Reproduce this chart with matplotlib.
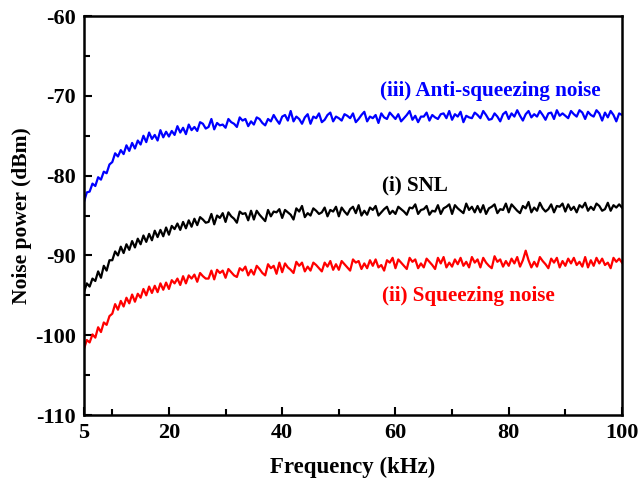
import numpy as np
import matplotlib.pyplot as plt

# noise power traces (dBm), sampled every 0.5 kHz from 5 to 100 kHz
anti_squeezing = [
    -83.3, -82.1, -82.0, -81.0, -81.3, -80.2, -80.5, -79.5, -79.7, -78.6,
    -78.3, -77.2, -77.6, -76.8, -77.3, -76.2, -76.9, -75.9, -76.6, -75.6,
    -76.1, -75.0, -75.8, -74.6, -75.4, -74.9, -75.6, -74.3, -75.2, -74.5,
    -75.1, -74.4, -74.9, -73.8, -74.6, -74.0, -74.8, -73.6, -74.3, -73.9,
    -74.4, -73.3, -73.5, -74.1, -73.9, -72.9, -74.2, -73.4, -73.7, -73.6,
    -74.0, -72.9, -73.3, -73.5, -73.9, -72.7, -73.1, -72.9, -73.8, -73.2,
    -73.6, -72.7, -72.9, -73.4, -73.7, -72.9, -73.2, -72.4, -73.0, -73.5,
    -72.6, -72.4, -73.1, -71.9, -73.2, -72.6, -72.9, -73.5, -72.7, -72.3,
    -73.5, -72.6, -72.8, -72.2, -73.3, -73.0, -72.4, -72.1, -73.2, -72.6,
    -72.8, -73.1, -72.3, -72.5, -72.8, -72.2, -73.3, -72.9, -72.4, -72.0,
    -73.2, -72.6, -72.8, -72.4, -73.4, -72.2, -72.7, -72.9, -72.1, -72.5,
    -72.9, -72.3, -73.2, -72.8, -72.4, -71.9, -73.0, -72.5, -73.3, -72.6,
    -72.6, -72.1, -73.1, -72.4, -72.7, -72.9, -72.3, -72.2, -72.8, -71.9,
    -73.0, -72.3, -72.6, -72.0, -73.3, -72.5, -72.7, -72.8, -72.1, -72.4,
    -72.8, -71.9, -72.4, -73.0, -72.9, -72.2, -72.6, -73.2, -72.3, -72.0,
    -72.9, -72.2, -72.6, -71.8, -72.5, -73.1, -72.3, -71.9, -72.7, -72.3,
    -72.6, -71.9, -72.4, -73.0, -72.2, -72.1, -72.9, -71.8, -72.5, -72.2,
    -72.5, -72.8, -71.9, -72.3, -72.6, -71.8, -72.1, -72.9, -72.0, -72.4,
    -72.6, -71.8, -72.2, -73.1, -72.1, -72.7, -71.9, -72.4, -73.2, -72.2,
    -72.4,
]

snl = [
    -94.6, -93.5, -93.9, -92.9, -93.2, -92.0, -92.8, -91.3, -91.9, -90.6,
    -90.6, -89.5, -90.0, -88.9, -89.7, -88.6, -89.3, -88.2, -89.0, -87.9,
    -88.6, -87.5, -88.3, -87.3, -88.1, -86.9, -87.7, -86.8, -87.6, -86.5,
    -87.4, -86.3, -86.7, -86.0, -86.8, -85.8, -86.6, -85.6, -86.4, -85.4,
    -86.2, -85.2, -85.5, -85.9, -85.8, -84.8, -86.1, -85.0, -85.3, -84.7,
    -85.8, -84.6, -85.1, -85.4, -85.9, -84.5, -84.8, -84.7, -85.6, -84.4,
    -85.5, -84.4, -84.9, -85.3, -85.7, -84.3, -85.1, -84.5, -84.6, -84.2,
    -85.3, -84.3, -84.6, -84.9, -85.5, -84.1, -84.5, -83.8, -85.2, -84.7,
    -85.0, -84.1, -84.4, -84.8, -84.6, -84.0, -85.1, -84.3, -84.5, -83.9,
    -85.1, -84.0, -84.5, -84.9, -84.2, -83.9, -84.7, -83.7, -85.0, -84.4,
    -84.9, -84.0, -84.3, -83.8, -85.0, -84.6, -84.2, -83.9, -84.8, -84.4,
    -84.8, -83.9, -84.2, -84.5, -84.9, -84.0, -84.1, -83.6, -84.8, -84.3,
    -84.2, -83.8, -84.9, -84.4, -84.5, -83.7, -84.8, -84.1, -83.9, -83.6,
    -84.8, -83.7, -84.1, -84.4, -84.7, -83.5, -84.3, -83.9, -84.6, -83.8,
    -84.6, -83.7, -84.8, -84.1, -83.9, -83.6, -84.7, -84.2, -84.3, -83.5,
    -84.6, -83.6, -84.0, -84.4, -84.7, -83.8, -84.1, -83.3, -84.6, -84.0,
    -84.4, -83.4, -84.1, -84.5, -84.2, -83.6, -84.6, -83.8, -83.9, -83.5,
    -84.5, -83.6, -84.3, -83.9, -84.6, -83.7, -84.0, -83.4, -84.4, -83.9,
    -84.3, -83.5, -83.8, -84.4, -84.2, -83.4, -84.4, -83.7, -84.0, -83.6,
    -84.0,
]

squeezing = [
    -101.7, -100.6, -100.9, -99.9, -100.3, -99.0, -99.6, -98.4, -98.7, -97.6,
    -97.3, -96.1, -96.8, -95.7, -96.4, -95.3, -96.0, -94.9, -95.8, -94.8,
    -95.3, -94.2, -95.0, -93.9, -94.7, -93.8, -94.6, -93.5, -94.3, -93.4,
    -94.2, -93.1, -93.5, -92.9, -93.7, -92.6, -93.5, -92.5, -92.9, -92.4,
    -93.3, -92.2, -92.6, -92.9, -92.9, -91.9, -93.0, -91.8, -92.2, -91.9,
    -92.8, -91.7, -92.1, -92.5, -92.7, -91.6, -91.9, -91.4, -92.5, -91.8,
    -92.4, -91.3, -91.7, -92.2, -92.5, -91.1, -91.6, -91.3, -92.3, -90.9,
    -92.1, -91.0, -91.5, -91.8, -92.2, -90.8, -91.3, -90.9, -92.0, -91.4,
    -91.9, -90.9, -91.2, -91.6, -92.0, -90.9, -91.4, -90.7, -91.8, -91.1,
    -91.8, -90.7, -91.1, -91.5, -91.9, -90.5, -90.9, -90.7, -91.7, -91.0,
    -91.6, -90.6, -91.3, -90.5, -91.5, -91.2, -91.9, -90.6, -90.9, -90.3,
    -91.6, -90.5, -90.9, -91.3, -91.7, -90.3, -90.8, -90.5, -91.6, -91.0,
    -91.5, -90.4, -90.8, -91.2, -91.7, -90.3, -91.0, -90.2, -91.5, -90.9,
    -91.4, -90.5, -91.1, -90.3, -91.3, -90.8, -91.5, -90.2, -90.9, -90.5,
    -91.5, -90.3, -90.9, -91.3, -91.6, -90.1, -90.8, -90.5, -91.4, -90.7,
    -91.3, -90.4, -91.0, -90.2, -91.4, -90.6, -89.4, -90.6, -91.5, -90.8,
    -91.4, -90.2, -90.7, -91.1, -91.6, -90.4, -90.9, -90.3, -91.5, -90.7,
    -91.3, -90.4, -91.0, -90.3, -91.2, -90.8, -91.4, -90.2, -91.5, -90.6,
    -91.3, -90.3, -91.0, -90.4, -91.2, -90.9, -91.6, -90.3, -90.8, -90.4,
    -90.9,
]

x_ticks = [5, 20, 40, 60, 80, 100]
y_ticks = [-110, -100, -90, -80, -70, -60]

plt.rcParams["font.family"] = ["Liberation Serif", "DejaVu Serif"]
plt.rcParams["font.weight"] = "bold"
plt.rcParams["axes.unicode_minus"] = False

fig = plt.figure(figsize=(6.43, 4.86), dpi=100)
ax = fig.add_axes([0.1306, 0.146, 0.8367, 0.821])

freq = np.linspace(5, 100, len(snl))
ax.plot(freq, anti_squeezing, color="#0000ff", lw=1.6)
ax.plot(freq, snl, color="black", lw=1.6)
ax.plot(freq, squeezing, color="#ff0000", lw=1.6)

ax.set_xlim(5, 100)
ax.set_ylim(-110, -60)
ax.set_xticks(x_ticks)
ax.set_yticks(y_ticks)
ax.set_xticks([10, 30, 50, 70, 90], minor=True)
ax.set_yticks([-105, -95, -85, -75, -65], minor=True)
ax.tick_params(which="major", direction="in", length=6, width=1.5, labelsize=16)
ax.tick_params(which="minor", direction="in", length=4, width=1.5)
ax.tick_params(axis="x", pad=6)
ax.tick_params(axis="y", pad=6)
for sp in ax.spines.values():
    sp.set_linewidth(1.8)

ax.set_xlabel("Frequency (kHz)", fontsize=16.5, fontweight="bold", labelpad=10)
ax.set_ylabel("Noise power (dBm)", fontsize=15.5, fontweight="bold", labelpad=2)

ax.text(57.3, -69.4, "(iii) Anti-squeezing noise", color="#0000ff",
        fontsize=15.2, fontweight="bold", va="center")
ax.text(57.6, -81.2, "(i) SNL", color="black",
        fontsize=15.2, fontweight="bold", va="center")
ax.text(57.6, -95.1, "(ii) Squeezing noise", color="#ff0000",
        fontsize=15.2, fontweight="bold", va="center")

fig.savefig("out.png", dpi=100)
